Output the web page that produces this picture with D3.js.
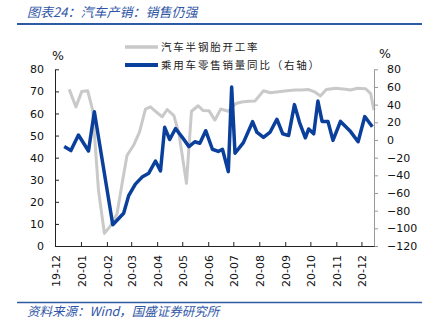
<!DOCTYPE html>
<html><head><meta charset="utf-8">
<script src="https://cdn.jsdelivr.net/npm/d3@7/dist/d3.min.js"></script>
<style>
html,body{margin:0;padding:0;background:#fff;}
svg{display:block;}
</style></head>
<body>
<svg id="c" width="440" height="332"></svg>
<script>
// ---- data ----
const titleText = "图表24：汽车产销：销售仍强";
const sourceText = "资料来源：Wind，国盛证券研究所";
const seriesNames = ["汽车半钢胎开工率", "乘用车零售销量同比（右轴）"];
const leftTicks = [0,10,20,30,40,50,60,70,80];
const rightTicks = [-120,-100,-80,-60,-40,-20,0,20,40,60,80];

// 汽车半钢胎开工率 (%), left axis
const tyreDates = ["2019-12-18","2019-12-26","2020-01-02","2020-01-09","2020-01-15","2020-01-22","2020-01-29",
 "2020-02-05","2020-02-13","2020-02-19","2020-02-25","2020-03-04","2020-03-11","2020-03-18","2020-03-24","2020-03-30",
 "2020-04-07","2020-04-13","2020-04-21","2020-04-27","2020-05-06","2020-05-12","2020-05-20","2020-05-26",
 "2020-06-02","2020-06-09","2020-06-16","2020-06-25","2020-07-04","2020-07-11","2020-07-19","2020-07-27",
 "2020-08-06","2020-08-14","2020-08-24","2020-09-03","2020-09-13","2020-09-21","2020-09-29",
 "2020-10-06","2020-10-13","2020-10-20","2020-10-31","2020-11-12","2020-11-18","2020-11-26",
 "2020-12-06","2020-12-12","2020-12-16"];
const tyreValues = [70.9,63,70,70.3,61.5,25,5.7,
 9,14.5,28,41,45.7,51.7,62,63,61,
 58.5,61.8,59,51,28.4,61,63.5,61.3,
 61.2,57,62,61,64.5,65.2,65.5,65.7,
 70.3,69.4,69.8,70.3,70.6,70.6,70.8,
 69.8,67.9,70.9,71.4,71,70.6,71.4,
 71.2,69,61.5];

// 乘用车零售销量同比 (%), right axis
const retailDates = ["2019-12-12","2019-12-20","2019-12-29","2020-01-10","2020-01-17","2020-02-08","2020-02-21","2020-02-27",
 "2020-03-06","2020-03-14","2020-03-22","2020-03-30","2020-04-05","2020-04-10","2020-04-16","2020-04-23",
 "2020-05-01","2020-05-09","2020-05-16","2020-05-22","2020-05-29","2020-06-06","2020-06-13","2020-06-18","2020-06-25","2020-06-29",
 "2020-07-03","2020-07-13","2020-07-24","2020-07-29","2020-08-06","2020-08-14","2020-08-22","2020-08-29",
 "2020-09-05","2020-09-12","2020-09-18","2020-09-25","2020-09-29","2020-10-05","2020-10-10","2020-10-15","2020-10-22","2020-10-28",
 "2020-11-06","2020-11-18","2020-11-27","2020-12-05","2020-12-14"];
const retailValues = [-7.5,-12,5.6,-12.5,32,-96,-83,-63,
 -50,-42,-37.6,-23.8,-35,14.3,0.5,13,
 3,-7.5,-2,-3.7,10.5,-10.5,-13,-10.5,-35.8,60,
 -15,-3,20.7,9,3,9,23.5,7,
 5,40,20,2.5,12.5,7,44,21,21,-0.5,
 21,9.5,-2,26.5,15];

// ---- chart ----
const svg = d3.select("#c");
const parse = d3.timeParse("%Y-%m-%d");
const margin = {left:55, right:66, top:69, bottom:86};
const W = 440, H = 332;
const x = d3.scaleTime().domain([parse("2019-12-01"), parse("2020-12-16")]).range([55, 374]);
const yL = d3.scaleLinear().domain([0,80]).range([246, 69.3]);
const yR = d3.scaleLinear().domain([-120,80]).range([246, 69.3]);

const blueTxt = "#2f56a6";
const font = "'DejaVu Sans', Verdana, sans-serif";
const cjk = "'Noto Sans CJK SC', sans-serif";

// title + rules
svg.append("text").attr("x",27).attr("y",17).text(titleText)
  .attr("font-family",cjk).attr("font-size",13).attr("font-style","italic").attr("fill",blueTxt);
svg.append("line").attr("x1",17).attr("x2",422).attr("y1",24).attr("y2",24).attr("stroke","#2d5aa5").attr("stroke-width",2);
svg.append("line").attr("x1",17).attr("x2",422).attr("y1",302.5).attr("y2",302.5).attr("stroke","#2d5aa5").attr("stroke-width",1.5);
svg.append("text").attr("x",27).attr("y",316).text(sourceText)
  .attr("font-family",cjk).attr("font-size",12.5).attr("font-style","italic").attr("fill",blueTxt);

// series
const tyre = tyreDates.map((d,i)=>({d:parse(d), v:tyreValues[i]}));
const retail = retailDates.map((d,i)=>({d:parse(d), v:retailValues[i]}));
svg.append("path").datum(tyre)
  .attr("d", d3.line().x(p=>x(p.d)).y(p=>yL(p.v)))
  .attr("fill","none").attr("stroke","#c9c9c9").attr("stroke-width",3).attr("stroke-linejoin","round");
svg.append("path").datum(retail)
  .attr("d", d3.line().x(p=>x(p.d)).y(p=>yR(p.v)))
  .attr("fill","none").attr("stroke","#0a3f9c").attr("stroke-width",3.5).attr("stroke-linejoin","round");

// axes
const gL = svg.append("g").attr("transform","translate(55,0)")
  .call(d3.axisLeft(yL).tickValues(leftTicks).tickSizeInner(-4).tickSizeOuter(0).tickPadding(10));
const gR = svg.append("g").attr("transform","translate(374,0)")
  .call(d3.axisRight(yR).tickValues(rightTicks).tickSizeInner(4).tickSizeOuter(0).tickPadding(9));
const gB = svg.append("g").attr("transform","translate(0,246)")
  .call(d3.axisBottom(x).ticks(d3.timeMonth.every(1)).tickFormat(d3.timeFormat("%y-%m")).tickSizeInner(-4).tickSizeOuter(0));
[gL,gR,gB].forEach(g=>{
  g.selectAll("text").attr("font-family",font).attr("font-size",11).attr("fill","#111");
  g.select(".domain").attr("stroke","#222");
  g.selectAll(".tick line").attr("stroke","#222");
});
gR.select(".domain").attr("stroke","#999");
gR.selectAll(".tick line").attr("stroke","#999");
gL.selectAll("text").attr("x",-11);
gB.selectAll("text").attr("transform","rotate(-90)").attr("text-anchor","end")
  .attr("x",-9).attr("y",0).attr("dy","0.38em");

// unit labels
svg.append("text").attr("x",58).attr("y",60).text("%").attr("font-family",font).attr("font-size",12.5).attr("text-anchor","middle").attr("fill","#111");
svg.append("text").attr("x",385).attr("y",58).text("%").attr("font-family",font).attr("font-size",12.5).attr("text-anchor","middle").attr("fill","#111");

// legend
const lg = [{c:"#c9c9c9", w:3.5, y:47}, {c:"#0a3f9c", w:4, y:65}];
seriesNames.forEach((n,i)=>{
  svg.append("line").attr("x1",125).attr("x2",158).attr("y1",lg[i].y).attr("y2",lg[i].y)
    .attr("stroke",lg[i].c).attr("stroke-width",lg[i].w);
  svg.append("text").attr("x",161).attr("y",lg[i].y).attr("dy","0.36em").text(n)
    .attr("font-family",cjk).attr("font-size",10.5).attr("letter-spacing","1.8px").attr("fill","#222");
});
</script>
</body></html>
